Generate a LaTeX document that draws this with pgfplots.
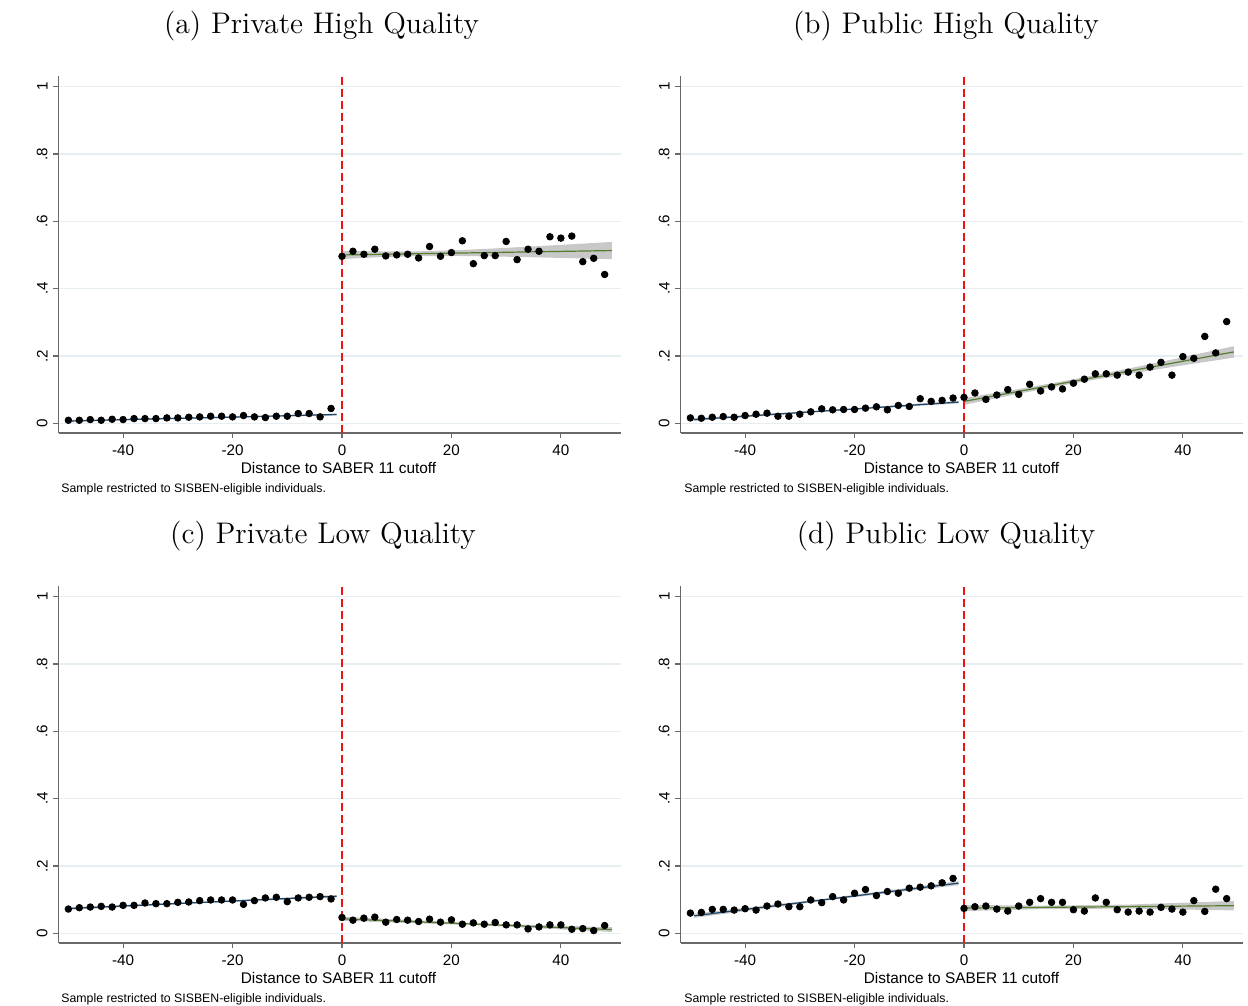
\documentclass[border=0pt]{standalone}
\usepackage{pgfplots}
\pgfplotsset{compat=1.18}
\usepackage{fontspec}
\newfontfamily\arialfont{Liberation Sans}

\definecolor{stnavy}{RGB}{26,71,111}
\definecolor{fitgreen}{RGB}{86,124,46}
\definecolor{bandgray}{RGB}{200,200,200}
\definecolor{gridcol}{RGB}{230,238,241}
\definecolor{axisgray}{RGB}{105,105,105}
\definecolor{cutred}{RGB}{235,20,20}

\pgfplotsset{
  rdpanel/.style={
    scale only axis, width=281pt, height=178.5pt,
    xmin=-51.8, xmax=50.9, ymin=-0.0288, ymax=1.0315,
    axis lines*=left,
    axis line style={draw=axisgray, line width=0.65pt, -},
    xtick={-40,-20,0,20,40}, xticklabels={-40,-20,0,20,40},
    ytick={0,0.2,0.4,0.6,0.8,1}, yticklabels={0,.2,.4,.6,.8,1},
    tick align=outside, major tick length=2.75pt,
    tick style={draw=axisgray, line width=0.6pt},
    ymajorgrids, major grid style={draw=gridcol, line width=0.6pt},
    ticklabel style={font=\arialfont\fontsize{7.6}{9}\selectfont},
    yticklabel style={rotate=90, anchor=south, inner sep=0pt},
    yticklabel shift=2.5pt,
    xticklabel style={anchor=north, inner sep=0pt},
    xticklabel shift=3pt,
    clip=false,
  },
  band/.style={fill=bandgray, draw=none, forget plot},
  leftfit/.style={stnavy, line width=0.6pt, no marks},
  rightfit/.style={fitgreen, line width=0.6pt, no marks},
  cutoff/.style={draw=cutred, line width=0.75pt, dash pattern=on 4pt off 2pt, no marks},
  bins/.style={only marks, mark=*, mark size=1.65pt, black},
}

\newcommand{\paneltitle}[3]{\node[anchor=base, inner sep=0pt, font=\fontsize{14.9}{18}\selectfont] at (#1pt,#2pt) {#3};}
\newcommand{\panelxlabel}[2]{\node[anchor=base, inner sep=0pt, font=\arialfont\fontsize{7.7}{9}\selectfont] at (#1pt,#2pt) {Distance to SABER 11 cutoff};}
\newcommand{\panelnote}[2]{\node[anchor=base west, inner sep=0pt, font=\arialfont\fontsize{6.15}{8}\selectfont] at (#1pt,#2pt) {Sample restricted to SISBEN-eligible individuals.};}

\begin{document}
\begin{tikzpicture}
\useasboundingbox (0,0) rectangle (624pt,503pt);

% ---------------- (a) Private High Quality ----------------
\begin{axis}[rdpanel, at={(29.27pt,286.5pt)}, anchor=south west]
\addplot[band] coordinates {(-49.3,0.004) (-25,0.015) (-1,0.023) (-1,0.029) (-25,0.0182) (-49.3,0.010)};
\addplot[band] coordinates {(0,0.488) (7,0.4933) (14,0.4967) (21,0.4970) (28,0.4954) (35,0.4930) (42,0.4904) (49.3,0.4874)
  (49.3,0.5386) (42,0.5318) (35,0.5254) (28,0.5194) (21,0.5141) (14,0.5107) (7,0.5104) (0,0.512)};
\addplot[leftfit] coordinates {(-49.3,0.007) (-1,0.026)};
\addplot[rightfit] coordinates {(0,0.500) (49.3,0.513)};
\addplot[cutoff] coordinates {(0,-0.0288) (0,1.0315)};
\addplot[bins] coordinates {
  (-50,0.009) (-48,0.009) (-46,0.011) (-44,0.009) (-42,0.012) (-40,0.011) (-38,0.014) (-36,0.014)
  (-34,0.014) (-32,0.016) (-30,0.016) (-28,0.018) (-26,0.019) (-24,0.021) (-22,0.021) (-20,0.019)
  (-18,0.023) (-16,0.019) (-14,0.017) (-12,0.021) (-10,0.021) (-8,0.029) (-6,0.029) (-4,0.019) (-2,0.044)};
\addplot[bins] coordinates {
  (0,0.496) (2,0.511) (4,0.502) (6,0.517) (8,0.497) (10,0.500) (12,0.502) (14,0.491) (16,0.525)
  (18,0.496) (20,0.507) (22,0.542) (24,0.474) (26,0.498) (28,0.498) (30,0.540) (32,0.486) (34,0.517)
  (36,0.511) (38,0.554) (40,0.550) (42,0.556) (44,0.480) (46,0.490) (48,0.442)};
\end{axis}

% ---------------- (b) Public High Quality ----------------
\begin{axis}[rdpanel, at={(340.27pt,286.5pt)}, anchor=south west]
\addplot[band] coordinates {(-49.3,0.007) (-25,0.0352) (-1,0.059) (-1,0.067) (-25,0.0392) (-49.3,0.015)};
\addplot[band] coordinates {(0,0.055) (10,0.0878) (20,0.1186) (30,0.1464) (40,0.1722) (49.3,0.195)
  (49.3,0.229) (40,0.1962) (30,0.1624) (20,0.1306) (10,0.1018) (0,0.075)};
\addplot[leftfit] coordinates {(-49.3,0.011) (-1,0.063)};
\addplot[rightfit] coordinates {(0,0.065) (49.3,0.212)};
\addplot[cutoff] coordinates {(0,-0.0288) (0,1.0315)};
\addplot[bins] coordinates {
  (-50,0.016) (-48,0.015) (-46,0.018) (-44,0.020) (-42,0.018) (-40,0.023) (-38,0.027) (-36,0.030)
  (-34,0.021) (-32,0.021) (-30,0.027) (-28,0.034) (-26,0.043) (-24,0.040) (-22,0.041) (-20,0.041)
  (-18,0.045) (-16,0.049) (-14,0.040) (-12,0.053) (-10,0.050) (-8,0.073) (-6,0.065) (-4,0.068) (-2,0.075)};
\addplot[bins] coordinates {
  (0,0.077) (2,0.090) (4,0.071) (6,0.084) (8,0.100) (10,0.086) (12,0.116) (14,0.096) (16,0.108)
  (18,0.102) (20,0.119) (22,0.131) (24,0.147) (26,0.147) (28,0.143) (30,0.152) (32,0.143) (34,0.167)
  (36,0.181) (38,0.143) (40,0.198) (42,0.193) (44,0.258) (46,0.209) (48,0.302)};
\end{axis}

% ---------------- (c) Private Low Quality ----------------
\begin{axis}[rdpanel, at={(29.27pt,31.5pt)}, anchor=south west]
\addplot[band] coordinates {(-49.3,0.070) (-25,0.090) (-1,0.106) (-1,0.114) (-25,0.094) (-49.3,0.078)};
\addplot[band] coordinates {(0,0.037) (25,0.0238) (49.3,0.004) (49.3,0.018) (25,0.0298) (0,0.049)};
\addplot[leftfit] coordinates {(-49.3,0.074) (-1,0.110)};
\addplot[rightfit] coordinates {(0,0.043) (49.3,0.011)};
\addplot[cutoff] coordinates {(0,-0.0288) (0,1.0315)};
\addplot[bins] coordinates {
  (-50,0.072) (-48,0.076) (-46,0.078) (-44,0.080) (-42,0.078) (-40,0.083) (-38,0.083) (-36,0.090)
  (-34,0.088) (-32,0.088) (-30,0.092) (-28,0.093) (-26,0.097) (-24,0.099) (-22,0.099) (-20,0.099)
  (-18,0.086) (-16,0.097) (-14,0.105) (-12,0.107) (-10,0.094) (-8,0.105) (-6,0.107) (-4,0.109) (-2,0.102)};
\addplot[bins] coordinates {
  (0,0.047) (2,0.039) (4,0.045) (6,0.048) (8,0.033) (10,0.041) (12,0.039) (14,0.035) (16,0.042)
  (18,0.033) (20,0.040) (22,0.027) (24,0.031) (26,0.027) (28,0.032) (30,0.025) (32,0.025) (34,0.013)
  (36,0.019) (38,0.025) (40,0.025) (42,0.012) (44,0.014) (46,0.008) (48,0.023)};
\end{axis}

% ---------------- (d) Public Low Quality ----------------
\begin{axis}[rdpanel, at={(340.27pt,31.5pt)}, anchor=south west]
\addplot[band] coordinates {(-49.3,0.046) (-25,0.0978) (-1,0.143) (-1,0.155) (-25,0.1038) (-49.3,0.058)};
\addplot[band] coordinates {(0,0.066) (15,0.0721) (30,0.0733) (49.3,0.068) (49.3,0.096) (30,0.0853) (15,0.0821) (0,0.084)};
\addplot[leftfit] coordinates {(-49.3,0.052) (-1,0.149)};
\addplot[rightfit] coordinates {(0,0.075) (49.3,0.082)};
\addplot[cutoff] coordinates {(0,-0.0288) (0,1.0315)};
\addplot[bins] coordinates {
  (-50,0.060) (-48,0.062) (-46,0.071) (-44,0.071) (-42,0.069) (-40,0.073) (-38,0.069) (-36,0.081)
  (-34,0.087) (-32,0.079) (-30,0.079) (-28,0.099) (-26,0.091) (-24,0.109) (-22,0.099) (-20,0.119)
  (-18,0.130) (-16,0.112) (-14,0.124) (-12,0.119) (-10,0.134) (-8,0.137) (-6,0.141) (-4,0.150) (-2,0.163)};
\addplot[bins] coordinates {
  (0,0.074) (2,0.079) (4,0.081) (6,0.072) (8,0.066) (10,0.081) (12,0.092) (14,0.103) (16,0.092)
  (18,0.092) (20,0.070) (22,0.066) (24,0.105) (26,0.092) (28,0.070) (30,0.063) (32,0.066) (34,0.063)
  (36,0.077) (38,0.072) (40,0.063) (42,0.097) (44,0.065) (46,0.131) (48,0.103)};
\end{axis}

% titles, axis titles and notes
\paneltitle{160.75}{486}{(a) Private High Quality}
\paneltitle{473}{486}{(b) Public High Quality}
\paneltitle{161.5}{231}{(c) Private Low Quality}
\paneltitle{473}{231}{(d) Public Low Quality}
\panelxlabel{169.25}{266.35}
\panelxlabel{480.75}{266.35}
\panelxlabel{169.25}{11.35}
\panelxlabel{480.75}{11.35}
\panelnote{30.5}{256.5}
\panelnote{342}{256.5}
\panelnote{30.5}{1.5}
\panelnote{342}{1.5}
\end{tikzpicture}
\end{document}
